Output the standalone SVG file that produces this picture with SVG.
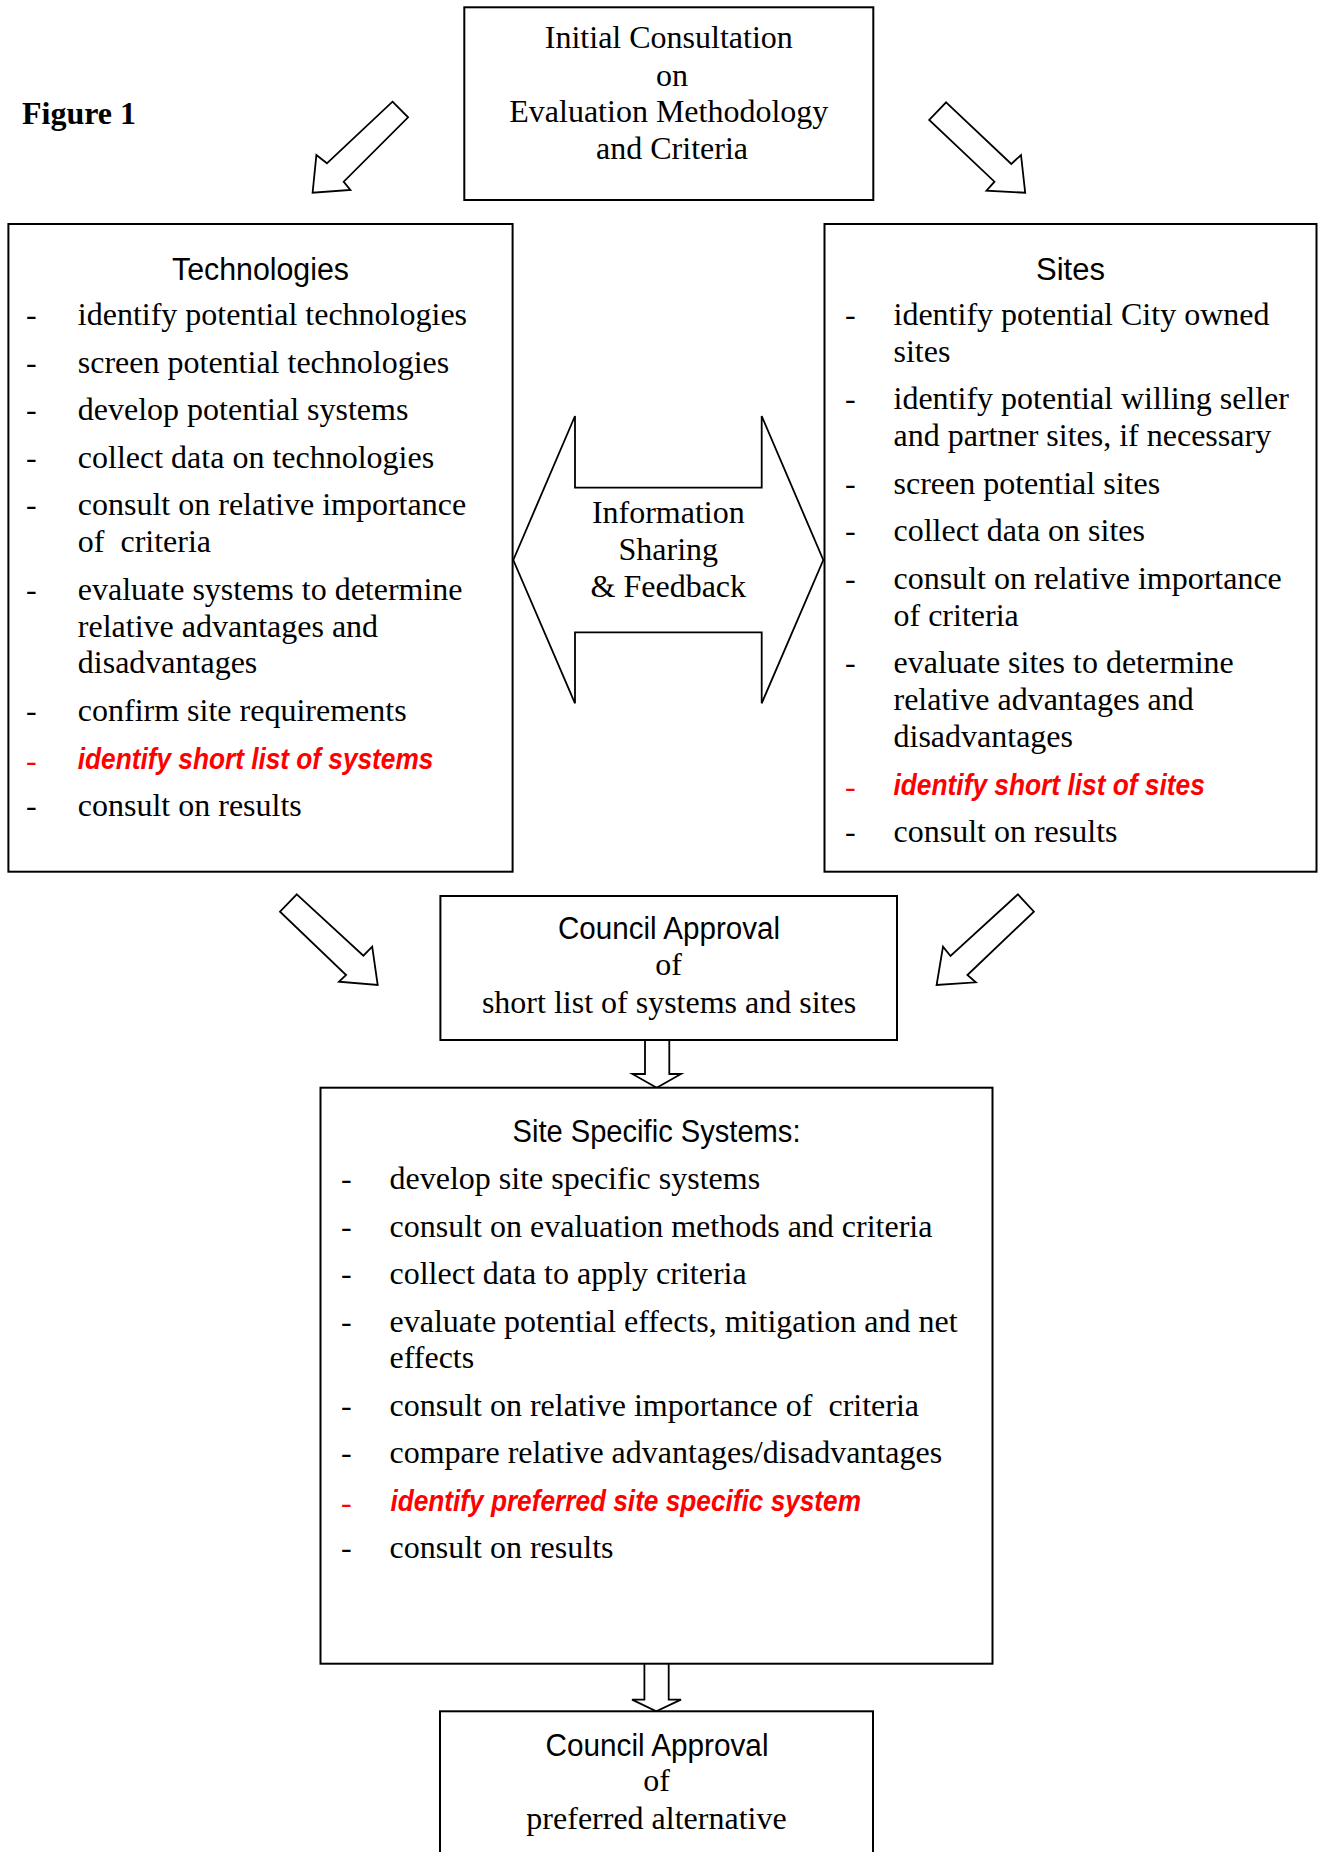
<svg xmlns="http://www.w3.org/2000/svg" width="1319" height="1852" viewBox="0 0 1319 1852">
<style>
.box{fill:#fff;stroke:#000;stroke-width:2}
.arr{fill:#fff;stroke:#000;stroke-width:1.8;stroke-linejoin:miter}
.t{font-family:"Liberation Serif","Times New Roman",serif;font-size:32px;fill:#000;white-space:pre}
.h{font-family:"Liberation Sans",Arial,sans-serif;font-size:31px;fill:#000}
.c{text-anchor:middle}
.r{font-family:"Liberation Sans",Arial,sans-serif;font-size:29px;font-weight:bold;font-style:italic;fill:#ff0000}
.rd{fill:#ff0000}
.fig{font-family:"Liberation Serif","Times New Roman",serif;font-size:32px;font-weight:bold;fill:#000}
</style>
<rect width="1319" height="1852" fill="#fff"/>
<text class="fig" x="22" y="124">Figure 1</text>

<g id="connectors">
<polygon class="arr" points="392.5,101.7 408.1,117.3 343.7,181.7 350.4,190 312.6,192.7 316.4,155 326.9,163.3"/>
<polygon class="arr" points="946.1,102.3 1011.3,164 1021,155 1025.2,192.7 986.5,190.7 994.5,181.7 929.2,120"/>
<polygon class="arr" points="296.8,894.3 363.4,955.7 372.2,946.7 377.7,985 339,981.7 346.1,975 280,911.7"/>
<polygon class="arr" points="1017.9,894.3 1033.9,911.7 967.4,975 975.8,982.3 936.6,985 943,946.7 950.5,956"/>
<path class="arr" d="M645,1040 L645,1074 L632.4,1074 L656.7,1087.7 L681,1074 L669.3,1074 L669.3,1040"/>
<path class="arr" d="M644.4,1664 L644.4,1699.6 L632,1699.6 L656.3,1711.3 L681,1699.6 L668.7,1699.6 L668.7,1664"/>
</g>

<g id="initial">
<rect class="box" x="464.3" y="7.3" width="409" height="192.7"/>
<text class="t c" x="668.8" y="48">Initial Consultation</text>
<text class="t c" x="672" y="85.5">on</text>
<text class="t c" x="668.8" y="122">Evaluation Methodology</text>
<text class="t c" x="672" y="159">and Criteria</text>
</g>

<g id="technologies">
<rect class="box" x="8.4" y="224" width="504.2" height="647.7"/>
<text class="h c" x="260.5" y="279.5" textLength="177" lengthAdjust="spacingAndGlyphs">Technologies</text>
<text class="t" x="26" y="325">-</text><text class="t" x="77.8" y="325">identify potential technologies</text>
<text class="t" x="26" y="372.6">-</text><text class="t" x="77.8" y="372.6">screen potential technologies</text>
<text class="t" x="26" y="420.2">-</text><text class="t" x="77.8" y="420.2">develop potential systems</text>
<text class="t" x="26" y="467.8">-</text><text class="t" x="77.8" y="467.8">collect data on technologies</text>
<text class="t" x="26" y="515.4">-</text><text class="t" x="77.8" y="515.4">consult on relative importance</text>
<text class="t" x="77.8" y="552.2">of  criteria</text>
<text class="t" x="26" y="599.8">-</text><text class="t" x="77.8" y="599.8">evaluate systems to determine</text>
<text class="t" x="77.8" y="636.6">relative advantages and</text>
<text class="t" x="77.8" y="673.4">disadvantages</text>
<text class="t" x="26" y="721">-</text><text class="t" x="77.8" y="721">confirm site requirements</text>
<text class="t rd" x="26" y="771">-</text><text class="r" x="77.8" y="768.6" textLength="355.5" lengthAdjust="spacingAndGlyphs">identify short list of systems</text>
<text class="t" x="26" y="816.2">-</text><text class="t" x="77.8" y="816.2">consult on results</text>
</g>

<g id="sharing">
<path class="arr" d="M513.3,560 L575,416 L575,487.7 L761.7,487.7 L761.7,416 L823.3,560 L761.7,703.3 L761.7,632.3 L575,632.3 L575,703.3 Z"/>
<text class="t c" x="668.3" y="523">Information</text>
<text class="t c" x="668.3" y="559.5">Sharing</text>
<text class="t c" x="668.3" y="596.5">&amp; Feedback</text>
</g>

<g id="sites">
<rect class="box" x="824.5" y="224" width="492" height="647.7"/>
<text class="h c" x="1070.5" y="279.5">Sites</text>
<text class="t" x="845" y="325">-</text><text class="t" x="893.5" y="325">identify potential City owned</text>
<text class="t" x="893.5" y="361.8">sites</text>
<text class="t" x="845" y="409.4">-</text><text class="t" x="893.5" y="409.4">identify potential willing seller</text>
<text class="t" x="893.5" y="446.2">and partner sites, if necessary</text>
<text class="t" x="845" y="493.8">-</text><text class="t" x="893.5" y="493.8">screen potential sites</text>
<text class="t" x="845" y="541.4">-</text><text class="t" x="893.5" y="541.4">collect data on sites</text>
<text class="t" x="845" y="589">-</text><text class="t" x="893.5" y="589">consult on relative importance</text>
<text class="t" x="893.5" y="625.8">of criteria</text>
<text class="t" x="845" y="673.4">-</text><text class="t" x="893.5" y="673.4">evaluate sites to determine</text>
<text class="t" x="893.5" y="710.2">relative advantages and</text>
<text class="t" x="893.5" y="747">disadvantages</text>
<text class="t rd" x="845" y="797">-</text><text class="r" x="893.5" y="794.6" textLength="311.3" lengthAdjust="spacingAndGlyphs">identify short list of sites</text>
<text class="t" x="845" y="842.2">-</text><text class="t" x="893.5" y="842.2">consult on results</text>
</g>

<g id="approval1">
<rect class="box" x="440.4" y="896" width="456.6" height="144"/>
<text class="h c" x="669" y="938.5" textLength="222" lengthAdjust="spacingAndGlyphs">Council Approval</text>
<text class="t c" x="668.5" y="975">of</text>
<text class="t c" x="669" y="1013">short list of systems and sites</text>
</g>

<g id="sitespecific">
<rect class="box" x="320.5" y="1087.7" width="672" height="576"/>
<text class="h c" x="656.5" y="1141.7" textLength="288" lengthAdjust="spacingAndGlyphs">Site Specific Systems:</text>
<text class="t" x="341" y="1189">-</text><text class="t" x="389.5" y="1189">develop site specific systems</text>
<text class="t" x="341" y="1236.5">-</text><text class="t" x="389.5" y="1236.5">consult on evaluation methods and criteria</text>
<text class="t" x="341" y="1284">-</text><text class="t" x="389.5" y="1284">collect data to apply criteria</text>
<text class="t" x="341" y="1331.5">-</text><text class="t" x="389.5" y="1331.5">evaluate potential effects, mitigation and net</text>
<text class="t" x="389.5" y="1368.3">effects</text>
<text class="t" x="341" y="1415.8">-</text><text class="t" x="389.5" y="1415.8">consult on relative importance of  criteria</text>
<text class="t" x="341" y="1463.3">-</text><text class="t" x="389.5" y="1463.3">compare relative advantages/disadvantages</text>
<text class="t rd" x="341" y="1513">-</text><text class="r" x="390.4" y="1510.8" textLength="470.6" lengthAdjust="spacingAndGlyphs">identify preferred site specific system</text>
<text class="t" x="341" y="1558.3">-</text><text class="t" x="389.5" y="1558.3">consult on results</text>
</g>

<g id="approval2">
<rect class="box" x="440" y="1711.3" width="433" height="200"/>
<text class="h c" x="657" y="1756" textLength="223" lengthAdjust="spacingAndGlyphs">Council Approval</text>
<text class="t c" x="656.5" y="1791">of</text>
<text class="t c" x="656.5" y="1829">preferred alternative</text>
</g>
</svg>
